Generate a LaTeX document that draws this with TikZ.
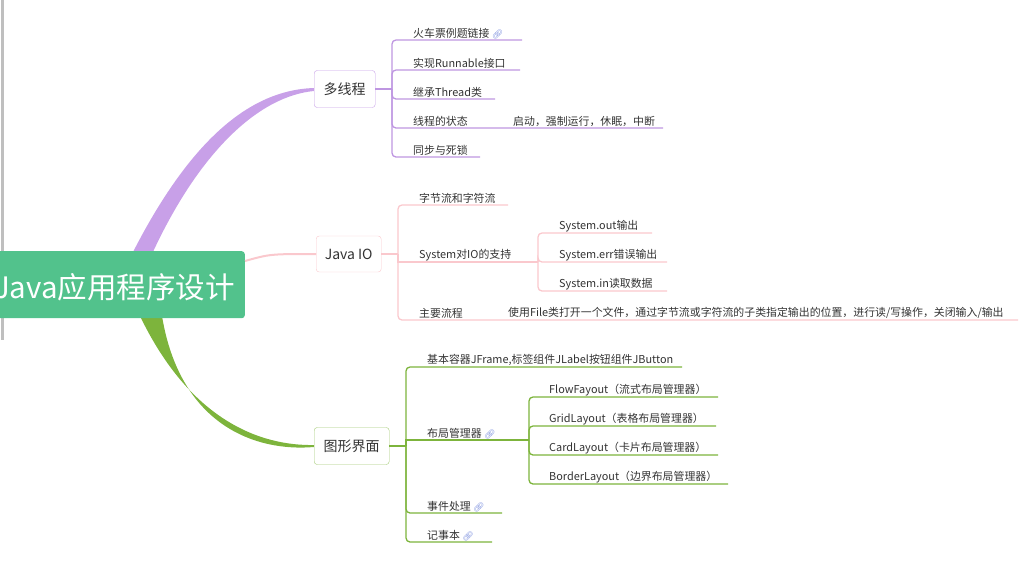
\documentclass[tikz,border=0pt]{standalone}
\usepackage{fontspec}
\setmainfont{Noto Sans CJK SC}
\newfontfamily\emojifont{Noto Emoji}
\usetikzlibrary{positioning,calc}
\definecolor{rootgreen}{RGB}{82,194,140}
\definecolor{purp}{RGB}{200,160,232}
\definecolor{purpline}{RGB}{190,150,225}
\definecolor{pinkline}{RGB}{250,200,205}
\definecolor{greenline}{RGB}{125,180,60}
\definecolor{linkblue}{RGB}{120,140,220}
\newcommand{\linkicon}{{\emojifont\color{linkblue}\small 🔗}}
\begin{document}
\begin{tikzpicture}[x=1pt, y=-1pt,
  topic/.style={draw=#1, rounded corners=3pt, fill=white, inner sep=0pt, font=\fontsize{14}{16}\selectfont, text=black!80},
  leaf/.style={anchor=south west, inner sep=1pt, font=\fontsize{10.9}{12}\selectfont, text=black!80},
  pline/.style={draw=#1, line width=1.3pt, rounded corners=4pt}]
\useasboundingbox (0,0) rectangle (1020,566);
\draw[black!25, line width=3pt] (2,0) -- (2,340);
% Main branches
\fill[purp] (132,254) .. controls (190,140) and (250,90) .. (314,88) -- (314,91) .. controls (260,96) and (200,150) .. (152,254) -- cycle;
\fill[greenline] (140,316) .. controls (190,420) and (260,446) .. (314,445) -- (314,447) .. controls (255,452) and (180,425) .. (162,316) -- cycle;
\node[fill=rootgreen, rounded corners=3pt, minimum width=250pt, minimum height=67pt, anchor=north east, inner sep=0pt] (root) at (245,251) {};
\node[text=white, font=\fontsize{29.5}{31}\selectfont, anchor=east, inner sep=0pt] (roottext) at ([xshift=-10pt,yshift=-3pt]root.east) {Java应用程序设计};
\node[topic=purp, minimum width=61pt, minimum height=37pt, anchor=west] (mt) at (314,89) {多线程};
\node[topic=pinkline, minimum width=65pt, minimum height=36pt, anchor=west] (io) at (316,254) {Java IO};
\node[topic=greenline!70, minimum width=75pt, minimum height=37pt, anchor=west] (gui) at (314,446) {图形界面};
\draw[pinkline, line width=2pt] (root.east |- 0,261) .. controls (270,254) .. (io.west);

% 多线程
\coordinate (mtspine) at (392,89);
\draw[pline=purpline, rounded corners=0pt] (mt.east) -- (mtspine);
\node[leaf] (mt1) at (412,40) {火车票例题链接 \linkicon};
\node[leaf] (mt2) at (412,70) {实现Runnable接口};
\node[leaf] (mt3) at (412,99) {继承Thread类};
\node[leaf] (mt4) at (412,128) {线程的状态};
\node[leaf] (mt4a) at (512,128) {启动，强制运行，休眠，中断};
\node[leaf] (mt5) at (412,157) {同步与死锁};
\draw[pline=purpline] (mtspine) |- (mt1.south west) -- (522,40);
\draw[pline=purpline] (mtspine) |- (mt2.south west) -- (520,70);
\draw[pline=purpline] (mtspine) |- (mt3.south west) -- (495,99);
\draw[pline=purpline] (mtspine) |- (mt4.south west) -- (mt4a.south east) -- (663,128);
\draw[pline=purpline] (mtspine) |- (mt5.south west) -- (480,157);

% Java IO
\coordinate (iospine) at (398,254);
\draw[pline=pinkline, rounded corners=0pt] (io.east) -- (iospine);
\node[leaf] (io1) at (418,205) {字节流和字符流};
\node[leaf] (io2) at (418,262) {System对IO的支持};
\node[leaf] (io3) at (418,320) {主要流程};
\node[leaf] (io3a) at (507,320) {使用File类打开一个文件，通过字节流或字符流的子类指定输出的位置，进行读/写操作，关闭输入/输出};
\draw[pline=pinkline] (iospine) |- (io1.south west) -- (508,205);
\draw[pline=pinkline, rounded corners=0pt] (iospine) |- (io2.south west) -- (538,262);
\draw[pline=pinkline] (iospine) |- (io3.south west) -- (1018,320);
\coordinate (sysspine) at (538,262);
\node[leaf] (sys1) at (558,233) {System.out输出};
\node[leaf] (sys2) at (558,262) {System.err错误输出};
\node[leaf] (sys3) at (558,291) {System.in读取数据};
\draw[pline=pinkline] (sysspine) |- (sys1.south west) -- (652,233);
\draw[pline=pinkline] (sysspine) |- (sys2.south west) -- (667,262);
\draw[pline=pinkline] (sysspine) |- (sys3.south west) -- (667,291);

% 图形界面
\coordinate (guispine) at (406,446);
\draw[pline=greenline, rounded corners=0pt] (gui.east) -- (guispine);
\node[leaf] (g1) at (426,367) {基本容器JFrame,标签组件JLabel按钮组件JButton};
\node[leaf] (g2) at (426,440) {布局管理器 \linkicon};
\node[leaf] (g3) at (426,513) {事件处理 \linkicon};
\node[leaf] (g4) at (426,542) {记事本 \linkicon};
\draw[pline=greenline] (guispine) |- (g1.south west) -- (682,367);
\draw[pline=greenline, rounded corners=0pt] (guispine) |- (g2.south west) -- (529,440);
\draw[pline=greenline] (guispine) |- (g3.south west) -- (502,513);
\draw[pline=greenline] (guispine) |- (g4.south west) -- (492,542);
\coordinate (layspine) at (529,440);
\node[leaf] (l1) at (548,397) {FlowFayout（流式布局管理器）};
\node[leaf] (l2) at (548,426) {GridLayout（表格布局管理器）};
\node[leaf] (l3) at (548,455) {CardLayout（卡片布局管理器）};
\node[leaf] (l4) at (548,484) {BorderLayout（边界布局管理器）};
\draw[pline=greenline] (layspine) |- (l1.south west) -- (718,397);
\draw[pline=greenline] (layspine) |- (l2.south west) -- (716,426);
\draw[pline=greenline] (layspine) |- (l3.south west) -- (718,455);
\draw[pline=greenline] (layspine) |- (l4.south west) -- (728,484);
\end{tikzpicture}
\end{document}
